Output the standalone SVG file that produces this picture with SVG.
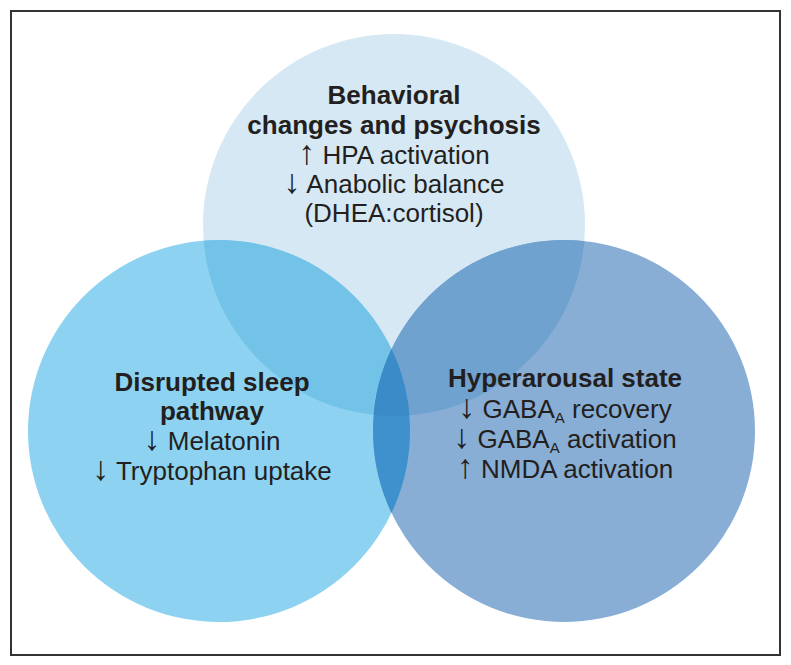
<svg xmlns="http://www.w3.org/2000/svg" width="791" height="665" viewBox="0 0 791 665">
<style>
text{font-family:"Liberation Sans",Arial,Helvetica,sans-serif;fill:#231f20;text-anchor:middle;font-size:26px}
.b{font-weight:bold}
.sub{font-size:15px}
.ar{font-size:34px}
</style>
<defs>
<clipPath id="cTop"><circle cx="394" cy="225" r="191"/></clipPath>
<clipPath id="cLeft"><circle cx="219" cy="431" r="191"/></clipPath>
</defs>
<rect x="0" y="0" width="791" height="665" fill="#ffffff"/>
<rect x="11" y="11" width="769" height="644" fill="#ffffff" stroke="#333333" stroke-width="2"/>
<g id="node-behavioral"><circle cx="394" cy="225" r="191" fill="#d5e8f3"/></g>
<g id="node-sleep"><circle cx="219" cy="431" r="191" fill="#8dd3f1"/></g>
<g id="node-hyperarousal"><circle cx="564" cy="431" r="191" fill="#88aed6"/></g>
<g id="overlaps">
<circle cx="219" cy="431" r="191" fill="#73c3e8" clip-path="url(#cTop)"/>
<circle cx="564" cy="431" r="191" fill="#6fa2cf" clip-path="url(#cTop)"/>
<circle cx="564" cy="431" r="191" fill="#3e91cd" clip-path="url(#cLeft)"/>
<g clip-path="url(#cTop)"><circle cx="564" cy="431" r="191" fill="#3b8bc8" clip-path="url(#cLeft)"/></g>
</g>
<g id="label-behavioral">
<text class="b" x="394" y="104">Behavioral</text>
<text class="b" x="394" y="134">changes and psychosis</text>
<text x="394" y="164"><tspan class="ar">↑</tspan> HPA activation</text>
<text x="394" y="193"><tspan class="ar">↓</tspan> Anabolic balance</text>
<text x="394" y="222">(DHEA:cortisol)</text>
</g>
<g id="label-sleep">
<text class="b" x="212" y="391">Disrupted sleep</text>
<text class="b" x="212" y="420">pathway</text>
<text x="212" y="450"><tspan class="ar">↓</tspan> Melatonin</text>
<text x="212" y="480"><tspan class="ar">↓</tspan> Tryptophan uptake</text>
</g>
<g id="label-hyperarousal">
<text class="b" x="565" y="387">Hyperarousal state</text>
<text x="565" y="418"><tspan class="ar">↓</tspan> GABA<tspan class="sub" dy="5">A</tspan><tspan dy="-5"> recovery</tspan></text>
<text x="565" y="448"><tspan class="ar">↓</tspan> GABA<tspan class="sub" dy="5">A</tspan><tspan dy="-5"> activation</tspan></text>
<text x="565" y="478"><tspan class="ar">↑</tspan> NMDA activation</text>
</g>
</svg>
